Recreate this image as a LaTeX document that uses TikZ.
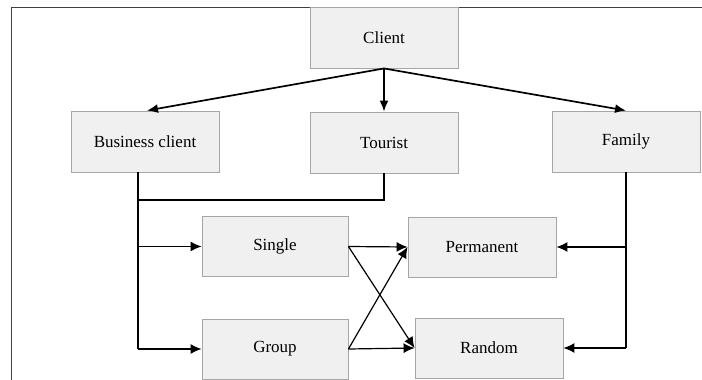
\documentclass[tikz,border=0pt]{standalone}
\usepackage{fontspec}
\setmainfont{Liberation Serif}
\usetikzlibrary{arrows.meta}
\definecolor{boxfill}{HTML}{F0F0F0}
\definecolor{boxline}{HTML}{A6A6A6}
\definecolor{frameline}{HTML}{404040}
\begin{document}
\begin{tikzpicture}[x=1pt,y=-1pt,
  box/.style={draw=boxline, fill=boxfill, line width=0.9pt, minimum width=148pt, minimum height=61pt, inner sep=0pt, font=\fontsize{17}{20}\selectfont},
  conn/.style={line width=1.2pt, -{Latex[length=11pt,width=10pt]}},
  mainconn/.style={line width=1.7pt, -{Latex[length=11pt,width=9pt]}},
  plain/.style={line width=1.2pt}]
\useasboundingbox (0,0) rectangle (702,380);
\draw[line width=0.9pt, frameline] (11,380) -- (11,7.5) -- (702,7.5);

\node[box] (client) at (384,37.5) {Client};
\node[box] (bc) at (145,141.5) {Business client};
\node[box] (tourist) at (384,142.5) {Tourist};
\node[box] (family) at (626,141.5) {Family};
\node[box, minimum width=146pt, minimum height=60pt] (single) at (275,246.5) {Single};
\node[box, minimum width=146pt, minimum height=60pt] (group) at (275,349) {Group};
\node[box, minimum height=60pt] (perm) at (482,247) {Permanent};
\node[box, minimum height=60pt] (random) at (489,348) {Random};

\draw[mainconn] (client.south) -- ([xshift=2pt]bc.north);
\draw[mainconn] (client.south) -- (tourist.north);
\draw[mainconn] (client.south) -- (family.north);

\coordinate (split) at (138,200);
\draw[plain] ([xshift=-7pt]bc.south) -- (split) -- (split -| tourist.south) -- (tourist.south);
\draw[plain] (split) -- (split |- group.west);
\draw[conn] (split |- single.west) -- (single.west);
\draw[conn] (split |- group.west) -- (group.west);

\draw[plain] (family.south) -- (family.south |- random.east);
\draw[conn] (family.south |- perm.east) -- (perm.east);
\draw[conn] (family.south |- random.east) -- (random.east);

\draw[conn] (single.east) -- (perm.west);
\draw[conn] (single.east) -- (random.west);
\draw[conn] (group.east) -- (random.west);
\draw[conn] (group.east) -- (perm.west);
\end{tikzpicture}
\end{document}
